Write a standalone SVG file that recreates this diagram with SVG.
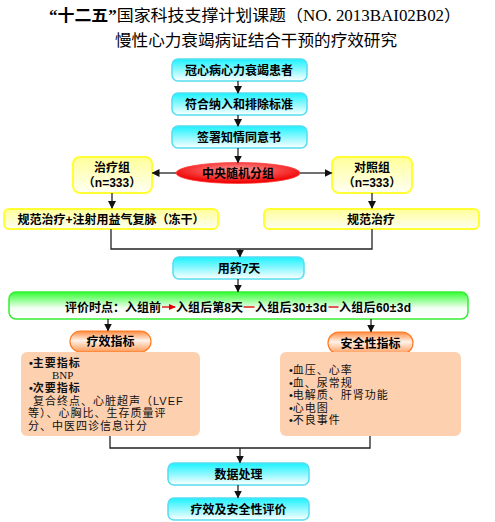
<svg xmlns="http://www.w3.org/2000/svg" width="495" height="522" viewBox="0 0 495 522">
<defs>
<linearGradient id="gCyan" x1="0" y1="0" x2="0" y2="1"><stop offset="0" stop-color="#1AF2FF"/><stop offset="1" stop-color="#FFFFFF"/></linearGradient>
<linearGradient id="gYel" x1="0" y1="0" x2="0" y2="1"><stop offset="0" stop-color="#FFFF99"/><stop offset="1" stop-color="#FFFFF4"/></linearGradient>
<linearGradient id="gGreen" x1="0" y1="0" x2="0" y2="1"><stop offset="0" stop-color="#33FF33"/><stop offset="0.6" stop-color="#F4FFF4"/><stop offset="1" stop-color="#FFFFFF"/></linearGradient>
<linearGradient id="gOr" x1="0" y1="0" x2="0" y2="1"><stop offset="0" stop-color="#FF8A3D"/><stop offset="0.45" stop-color="#FFF2EA"/><stop offset="1" stop-color="#FF9A55"/></linearGradient>
<radialGradient id="gRed" cx="0.5" cy="0.35" r="0.6"><stop offset="0" stop-color="#FF9999"/><stop offset="1" stop-color="#F00000"/></radialGradient>
<marker id="ah" markerWidth="8" markerHeight="8" refX="7" refY="4" orient="auto" markerUnits="userSpaceOnUse"><path d="M0,0 L8,4 L0,8 Z" fill="#111"/></marker>
<marker id="ahr" markerWidth="7" markerHeight="6" refX="6" refY="3" orient="auto" markerUnits="userSpaceOnUse"><path d="M0,0 L7,3 L0,6 Z" fill="#E00000"/></marker>
</defs>
<style>
.t{font-family:"Liberation Sans","Noto Sans CJK SC",sans-serif;font-size:12px;fill:#000;}
.s{font-family:"Liberation Sans","Noto Sans CJK SC",sans-serif;font-size:11px;letter-spacing:1px;fill:#111;}
.bu{letter-spacing:0;}
.b{font-weight:bold;}
.m{text-anchor:middle;}
.ttl{font-family:"Liberation Serif","Noto Sans CJK SC",serif;font-size:16px;fill:#000;text-anchor:middle;}
.cy{fill:url(#gCyan);stroke:#55DDF0;stroke-width:1.5;}
.ye{fill:url(#gYel);stroke:#FFFF33;stroke-width:2;}
.pe{fill:#FDD0B0;stroke:none;}
.pill{fill:url(#gOr);stroke:#FF7A20;stroke-width:1.2;}
.ln{fill:none;stroke:#222;stroke-width:1.3;}
.ar{marker-end:url(#ah);}
</style>

<g id="title">
<text class="ttl" x="255" y="21" textLength="412" lengthAdjust="spacingAndGlyphs"><tspan font-weight="bold">“十二五”</tspan>国家科技支撑计划课题（NO. 2013BAI02B02）</text>
<text class="ttl" x="256" y="46" textLength="282" lengthAdjust="spacingAndGlyphs">慢性心力衰竭病证结合干预的疗效研究</text>
</g>

<g id="n1"><rect class="cy" x="172" y="59" width="135" height="22" rx="6"/><text class="t b m" x="239" y="74.5">冠心病心力衰竭患者</text></g>
<g id="n2"><rect class="cy" x="172" y="93" width="135" height="22" rx="6"/><text class="t b m" x="239" y="108.5">符合纳入和排除标准</text></g>
<g id="n3"><rect class="cy" x="172" y="126" width="135" height="22" rx="6"/><text class="t b m" x="239" y="141.5">签署知情同意书</text></g>
<g id="n4"><ellipse cx="238" cy="173" rx="62" ry="10.5" fill="url(#gRed)" stroke="#FF4040" stroke-width="0.8"/><text class="t b m" x="238" y="177.5">中央随机分组</text></g>
<g id="n5"><rect class="ye" x="73" y="157" width="79" height="36" rx="7"/><text class="t b m" x="112" y="172">治疗组</text><text class="t b m" x="112" y="187">（n=333）</text></g>
<g id="n6"><rect class="ye" x="332" y="157" width="80" height="36" rx="7"/><text class="t b m" x="372" y="172">对照组</text><text class="t b m" x="372" y="187">（n=333）</text></g>
<g id="n7"><rect class="ye" x="4" y="209" width="214" height="20" rx="5"/><text class="t b m" x="111" y="223.5">规范治疗+注射用益气复脉（冻干）</text></g>
<g id="n8"><rect class="ye" x="264" y="209" width="215" height="20" rx="5"/><text class="t b m" x="371" y="223.5">规范治疗</text></g>
<g id="n9"><rect class="cy" x="173" y="257" width="131" height="22" rx="6"/><text class="t b m" x="239" y="272.5">用药7天</text></g>
<g id="n10"><rect x="9" y="292" width="459" height="27" rx="7" fill="url(#gGreen)" stroke="#33EE33" stroke-width="1.5"/>
<text class="t b" x="65" y="311.5">评价时点：入组前</text>
<text class="t b" x="176" y="311.5" textLength="67">入组后第8天</text>
<text class="t b" x="255" y="311.5" textLength="72">入组后30±3d</text>
<text class="t b" x="339" y="311.5" textLength="72">入组后60±3d</text>
<path d="M162,307 H175" stroke="#E00000" stroke-width="1.3" marker-end="url(#ahr)"/>
<path d="M243.5,307 H254.5" stroke="#E00000" stroke-width="1.3"/>
<path d="M328.5,307 H338.5" stroke="#E00000" stroke-width="1.3"/>
</g>
<g id="n11"><rect class="pill" x="70" y="331" width="81" height="21" rx="10.5"/><text class="t b m" x="110.5" y="346">疗效指标</text></g>
<g id="n12"><rect class="pill" x="328" y="332" width="85" height="22" rx="11"/><text class="t b m" x="370.5" y="347.5">安全性指标</text></g>
<g id="n13"><rect class="pe" x="21" y="352" width="179" height="84" rx="6"/>
<text class="s b" x="29" y="367"><tspan class="bu">•</tspan>主要指标</text>
<text class="s" x="52" y="379" style="font-family:'Liberation Serif',serif;letter-spacing:0">BNP</text>
<text class="s b" x="29" y="392"><tspan class="bu">•</tspan>次要指标</text>
<text class="s" x="33" y="404.5">复合终点、心脏超声（LVEF</text>
<text class="s" x="28" y="417">等）、心胸比、生存质量评</text>
<text class="s" x="28" y="429.5">分、中医四诊信息计分</text>
</g>
<g id="n14"><rect class="pe" x="280" y="352" width="181" height="84" rx="6"/>
<text class="s" x="289" y="374"><tspan class="bu">•</tspan>血压、心率</text>
<text class="s" x="289" y="386.5"><tspan class="bu">•</tspan>血、尿常规</text>
<text class="s" x="289" y="399"><tspan class="bu">•</tspan>电解质、肝肾功能</text>
<text class="s" x="289" y="411.5"><tspan class="bu">•</tspan>心电图</text>
<text class="s" x="289" y="424"><tspan class="bu">•</tspan>不良事件</text>
</g>
<g id="n15"><rect class="cy" x="168" y="463" width="141" height="22" rx="6"/><text class="t b m" x="238.5" y="478.5">数据处理</text></g>
<g id="n16"><rect class="cy" x="168" y="498" width="141" height="22" rx="6"/><text class="t b m" x="238.5" y="513.5">疗效及安全性评价</text></g>

<g id="connectors">
<path class="ln ar" d="M238,81 V93"/>
<path class="ln ar" d="M238,115 V126"/>
<path class="ln ar" d="M238,148 V162.5"/>
<path class="ln ar" d="M176,173 H152.5"/>
<path class="ln ar" d="M300,173 H331.5"/>
<path class="ln ar" d="M112,193 V208"/>
<path class="ln ar" d="M372,193 V208"/>
<path class="ln" d="M111,229 V249 H372 V229"/>
<path class="ln ar" d="M240,249 V256.5"/>
<path class="ln ar" d="M238,279 V291.5"/>
<path class="ln ar" d="M108,319 V330.5"/>
<path class="ln ar" d="M371,319 V331.5"/>
<path class="ln" d="M110,436 V448 H370 V436"/>
<path class="ln ar" d="M240,448 V462.5"/>
<path class="ln ar" d="M238,485 V497.5"/>
</g>
</svg>
